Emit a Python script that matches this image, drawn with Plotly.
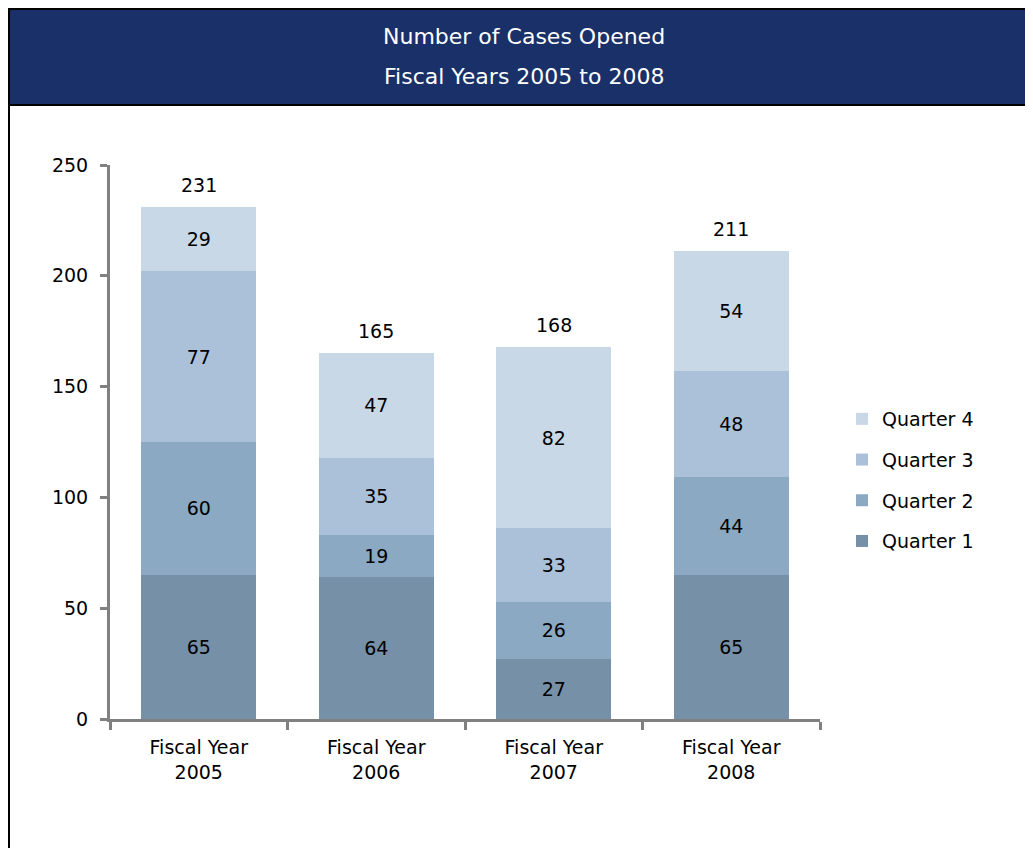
import plotly.graph_objects as go

# chart data
years = ["Fiscal Year<br>2005", "Fiscal Year<br>2006", "Fiscal Year<br>2007", "Fiscal Year<br>2008"]
quarter_1 = [65, 64, 27, 65]
quarter_2 = [60, 19, 26, 44]
quarter_3 = [77, 35, 33, 48]
quarter_4 = [29, 47, 82, 54]
totals = [231, 165, 168, 211]
y_ticks = [0, 50, 100, 150, 200, 250]

FONT = "DejaVu Sans"
series = [
    ("Quarter 1", quarter_1, "#7590a7"),
    ("Quarter 2", quarter_2, "#8ba9c2"),
    ("Quarter 3", quarter_3, "#abc1d9"),
    ("Quarter 4", quarter_4, "#c9d8e6"),
]

# plot area in page pixels (page has an 8px body margin)
PL, PR, PT, PB = 110, 820, 165, 719
W, H = 1033, 848
OFF = 8


def px_x(px):
    return (px - PL) / (PR - PL)


def px_y(py):
    return (PB - py) / (PB - PT)


fig = go.Figure()
for i, (name, values, color) in enumerate(series):
    fig.add_trace(
        go.Bar(
            name=name,
            x=years,
            y=values,
            marker=dict(color=color, line=dict(width=0)),
            text=values,
            textposition="inside",
            insidetextanchor="middle",
            textfont=dict(family=FONT, size=19, color="black"),
            legendgroup=name,
            legendrank=10 - i,
        )
    )

for year, total in zip(years, totals):
    fig.add_annotation(
        x=year, y=total, text=str(total), showarrow=False,
        yanchor="bottom", yshift=9, font=dict(family=FONT, size=19, color="black"),
    )

# outer frame and header band
fig.add_shape(type="rect", xref="paper", yref="paper",
              x0=px_x(OFF + 1), x1=px_x(1045), y0=px_y(870), y1=px_y(OFF + 1),
              line=dict(color="black", width=2), fillcolor="rgba(0,0,0,0)", layer="below")
fig.add_shape(type="rect", xref="paper", yref="paper",
              x0=px_x(OFF + 1), x1=px_x(1045), y0=px_y(105), y1=px_y(OFF + 1),
              line=dict(color="black", width=2), fillcolor="#1a3068", layer="below")
fig.add_annotation(xref="paper", yref="paper", x=px_x(524), y=px_y(36), yanchor="middle",
                   text="Number of Cases Opened", showarrow=False,
                   font=dict(family=FONT, size=22, color="white"))
fig.add_annotation(xref="paper", yref="paper", x=px_x(524), y=px_y(77), yanchor="middle",
                   text="Fiscal Years 2005 to 2008", showarrow=False,
                   font=dict(family=FONT, size=22, color="white"))

fig.update_layout(
    width=W, height=H,
    margin=dict(l=PL - OFF, r=W + OFF - PR, t=PT - OFF, b=H + OFF - PB, pad=0),
    barmode="stack",
    bargap=0.35,
    plot_bgcolor="white",
    paper_bgcolor="white",
    font=dict(family=FONT, size=19, color="black"),
    uniformtext=dict(minsize=19, mode="show"),
    legend=dict(
        x=px_x(842), y=px_y(480), xanchor="left", yanchor="middle",
        traceorder="grouped", tracegroupgap=13, itemwidth=30,
        font=dict(family=FONT, size=19, color="black"),
        bgcolor="rgba(0,0,0,0)",
    ),
)
fig.update_yaxes(
    range=[0, 250], tickvals=y_ticks,
    showgrid=False, zeroline=False,
    showline=True, linecolor="#808080", linewidth=3,
    ticks="outside", ticklen=7, tickwidth=3, tickcolor="#808080",
    ticklabelstandoff=8,
)
fig.update_xaxes(
    showgrid=False, showline=True, linecolor="#808080", linewidth=3,
    ticks="outside", ticklen=8, tickwidth=3, tickcolor="#808080",
    tickson="boundaries", ticklabelstandoff=9,
)

fig.write_html("out.html")
